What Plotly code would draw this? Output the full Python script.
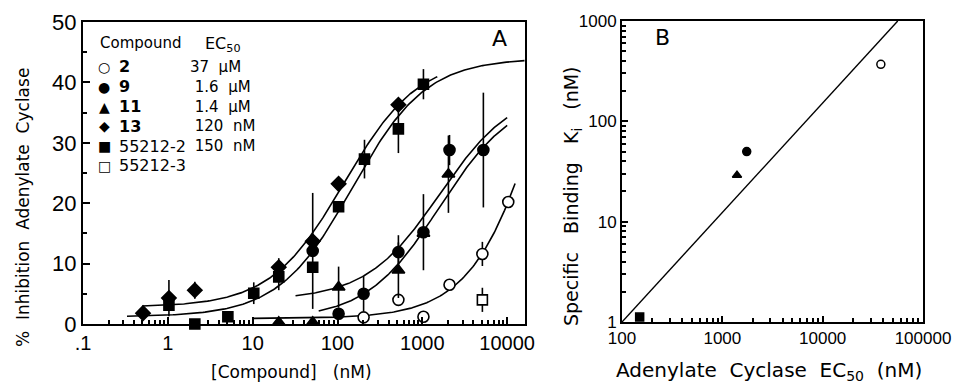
import numpy as np
import plotly.graph_objects as go

# ---------------- Panel A data ----------------
conc_sq = [1.03, 2.08, 5.1, 10.3, 20.3, 51, 103, 208, 522, 1030]        # 55212-2
inh_sq = [3.1, 0.0, 1.2, 5.1, 7.8, 9.4, 19.4, 27.3, 32.3, 39.7]
err_sq = [0, 0, 0, 1.8, 2.2, 0, 0, 3.2, 4.0, 2.5]

conc_dm = [0.51, 1.03, 2.08, 20.3, 51, 103, 522]                        # 13
inh_dm = [1.8, 4.3, 5.6, 9.4, 13.7, 23.2, 36.3]
err_dm = [0, 3.0, 1.4, 1.5, 0, 0, 0]

conc_c9 = [51, 103, 203, 522, 1030, 2090, 5240]                          # 9
inh_c9 = [12.1, 1.7, 5.0, 11.9, 15.2, 28.8, 28.8]
err_c9 = [9.6, 0, 2.9, 2.8, 6.3, 2.5, 9.5]

conc_t11 = [20.3, 51, 103, 522, 1030, 2030]                              # 11
inh_t11 = [0.3, 0.3, 6.1, 8.9, 15.0, 24.8]
err_t11 = [0, 0, 3.4, 4.6, 0, 6.4]

conc_o2 = [203, 522, 1030, 2090, 5100, 10300]                            # 2
inh_o2 = [1.1, 4.0, 1.2, 6.5, 11.6, 20.2]
err_o2 = [0, 0, 0.8, 0, 2.0, 0]

conc_os = [5100]                                                         # 55212-3
inh_os = [4.0]
err_os = [2.0]

# fitted curves: bottom, top, EC50 (nM), hill, x-start, x-end
fit_bottom = [2.8, 1.2, 4.0, 0.8, 0.9]
fit_top = [44.0, 44.0, 39.0, 38.0, 90.0]
fit_ec50 = [120, 150, 1600, 1600, 37000]
fit_hill = [1.0, 1.0, 1.0, 1.0, 1.0]
fit_xmin = [0.5, 0.33, 32, 60, 10]
fit_xmax = [1500, 16000, 10000, 10000, 12400]

# legend table
leg_symbols = ["○", "●", "▲", "◆", "■", "□"]
leg_names = ["<b>2</b>", "<b>9</b>", "<b>11</b>", "<b>13</b>", "55212-2", "55212-3"]
leg_ec50 = ["37  µM", " 1.6  µM", " 1.4  µM", " 120  nM", " 150  nM", ""]

# ---------------- Panel B data ----------------
ec50_b = [38000, 1750, 1400, 150]
ki_b = [370, 50, 29, 1.12]
sym_b = ["circle", "circle", "triangle-up", "square"]
fill_b = ["white", "black", "black", "black"]
line_b_x = [100, 56000]
line_b_y = [1, 1000]

W, H = 955, 387

def fx(px):
    return px / W

def fy(py):
    return 1 - py / H

fig = go.Figure()
BLACK = "black"

def add_pts(x, y, e, symbol, fill, size=10):
    fig.add_trace(go.Scatter(
        x=x, y=y, mode="markers", xaxis="x", yaxis="y",
        marker=dict(symbol=symbol, size=size, color=fill, line=dict(color=BLACK, width=1.6)),
        error_y=dict(type="data", array=e, visible=True, color=BLACK, thickness=1.6, width=0),
        showlegend=False, cliponaxis=False))

# curves
for b, t, ec, n, x0, x1 in zip(fit_bottom, fit_top, fit_ec50, fit_hill, fit_xmin, fit_xmax):
    xs = np.logspace(np.log10(x0), np.log10(x1), 200)
    ys = b + (t - b) / (1 + (ec / xs) ** n)
    fig.add_trace(go.Scatter(x=xs, y=ys, mode="lines", xaxis="x", yaxis="y",
                             line=dict(color=BLACK, width=1.6), showlegend=False))

add_pts(conc_o2, inh_o2, err_o2, "circle", "white", 11)
add_pts(conc_os, inh_os, err_os, "square", "white", 10)
add_pts(conc_t11, inh_t11, err_t11, "triangle-up", BLACK, 11)
add_pts(conc_c9, inh_c9, err_c9, "circle", BLACK, 11)
add_pts(conc_sq, inh_sq, err_sq, "square", BLACK, 10)
add_pts(conc_dm, inh_dm, err_dm, "diamond", BLACK, 11)

# panel B
fig.add_trace(go.Scatter(x=line_b_x, y=line_b_y, mode="lines", xaxis="x2", yaxis="y2",
                         line=dict(color=BLACK, width=1.4), showlegend=False))
for xv, yv, s, f in zip(ec50_b, ki_b, sym_b, fill_b):
    fig.add_trace(go.Scatter(x=[xv], y=[yv], mode="markers", xaxis="x2", yaxis="y2",
                             marker=dict(symbol=s, size=8, color=f, line=dict(color=BLACK, width=1.5)),
                             showlegend=False, cliponaxis=False))

def minor_log(d0, d1):
    return [k * 10.0 ** d for d in range(d0, d1) for k in range(2, 10)]

axis_common = dict(showline=True, linecolor=BLACK, linewidth=2, mirror=True, ticks="inside",
                   tickcolor=BLACK, tickwidth=1.5, showgrid=False, zeroline=False, automargin=False)

fig.update_layout(
    width=W, height=H, margin=dict(l=0, r=0, t=0, b=0, autoexpand=False),
    paper_bgcolor="white", plot_bgcolor="white", showlegend=False,
    xaxis=dict(domain=[fx(83), fx(525)], type="log", range=[-1, 4.21], anchor="y",
               tickvals=[0.1, 1, 10, 100, 1000, 10000],
               ticktext=[".1", "1", "10", "100", "1000", "10000"], ticklen=7,
               minor=dict(tickvals=minor_log(-1, 5), ticks="inside", ticklen=4,
                          tickcolor=BLACK, showgrid=False),
               tickfont=dict(family="Liberation Sans, Arial", size=20, color=BLACK), **axis_common),
    yaxis=dict(domain=[fy(324), fy(22)], range=[0, 50], anchor="x",
               tickvals=[0, 10, 20, 30, 40, 50], ticklen=7,
               minor=dict(tickvals=[5, 15, 25, 35, 45], ticks="inside", ticklen=4,
                          tickcolor=BLACK, showgrid=False),
               tickfont=dict(family="Liberation Sans, Arial", size=22, color=BLACK), **axis_common),
    xaxis2=dict(domain=[fx(622), fx(923)], type="log", range=[2, 5], anchor="y2",
                tickvals=[100, 1000, 10000, 100000],
                ticktext=["100", "1000", "10000", "100000"], ticklen=6,
                minor=dict(tickvals=minor_log(2, 5), ticks="inside", ticklen=4,
                           tickcolor=BLACK, showgrid=False),
                tickfont=dict(family="Liberation Sans, Arial", size=17, color=BLACK), **axis_common),
    yaxis2=dict(domain=[fy(322), fy(21)], type="log", range=[0, 3], anchor="x2",
                tickvals=[1, 10, 100, 1000], ticktext=["1", "10", "100", "1000"], ticklen=6,
                minor=dict(tickvals=minor_log(0, 3), ticks="inside", ticklen=4,
                           tickcolor=BLACK, showgrid=False),
                tickfont=dict(family="Liberation Sans, Arial", size=17, color=BLACK), **axis_common),
)

NB = "\u00a0"
tf = "DejaVu Sans"
ann = []
# axis titles
ann.append(dict(text="[Compound]" + NB * 3 + "(nM)", x=291, y=372, font=dict(size=17)))
ann.append(dict(text=(NB * 2).join(["%", "Inhibition", "Adenylate", "Cyclase"]), x=23, y=208,
                textangle=-90, font=dict(size=17)))
ann.append(dict(text=(NB * 2).join(["Adenylate", "Cyclase", "EC<sub>50</sub>", "(nM)"]), x=769, y=371,
                font=dict(size=20)))
ann.append(dict(text=(NB * 3).join(["Specific", "Binding", "K<sub>i</sub>", "(nM)"]), x=572, y=196,
                textangle=-90, font=dict(size=19)))
# panel letters
ann.append(dict(text="A", x=499, y=39, font=dict(size=22)))
ann.append(dict(text="B", x=662, y=38, font=dict(size=22)))
# legend table
ann.append(dict(text="Compound", x=98, y=43, xanchor="left", font=dict(size=15)))
ann.append(dict(text="EC<sub>50</sub>", x=203, y=44, xanchor="left", font=dict(size=16)))
for i, (s, nm, ec) in enumerate(zip(leg_symbols, leg_names, leg_ec50)):
    yy = 67 + i * 19.8
    ann.append(dict(text=s, x=104, y=yy, font=dict(size=14)))
    ann.append(dict(text=nm, x=117, y=yy, xanchor="left", font=dict(size=16)))
    if ec:
        ann.append(dict(text=ec.replace(" ", NB), x=188, y=yy, xanchor="left", font=dict(size=15)))

for a in ann:
    a.setdefault("xanchor", "center")
    a.update(xref="paper", yref="paper", x=fx(a["x"]), y=fy(a["y"]), yanchor="middle",
             showarrow=False)
    a["font"] = dict(family=tf, color=BLACK, **a["font"])
    fig.add_annotation(**a)

fig.write_html("out.html", config={"displayModeBar": False},
               post_script="document.body.style.margin='0';document.body.style.overflow='hidden';")
